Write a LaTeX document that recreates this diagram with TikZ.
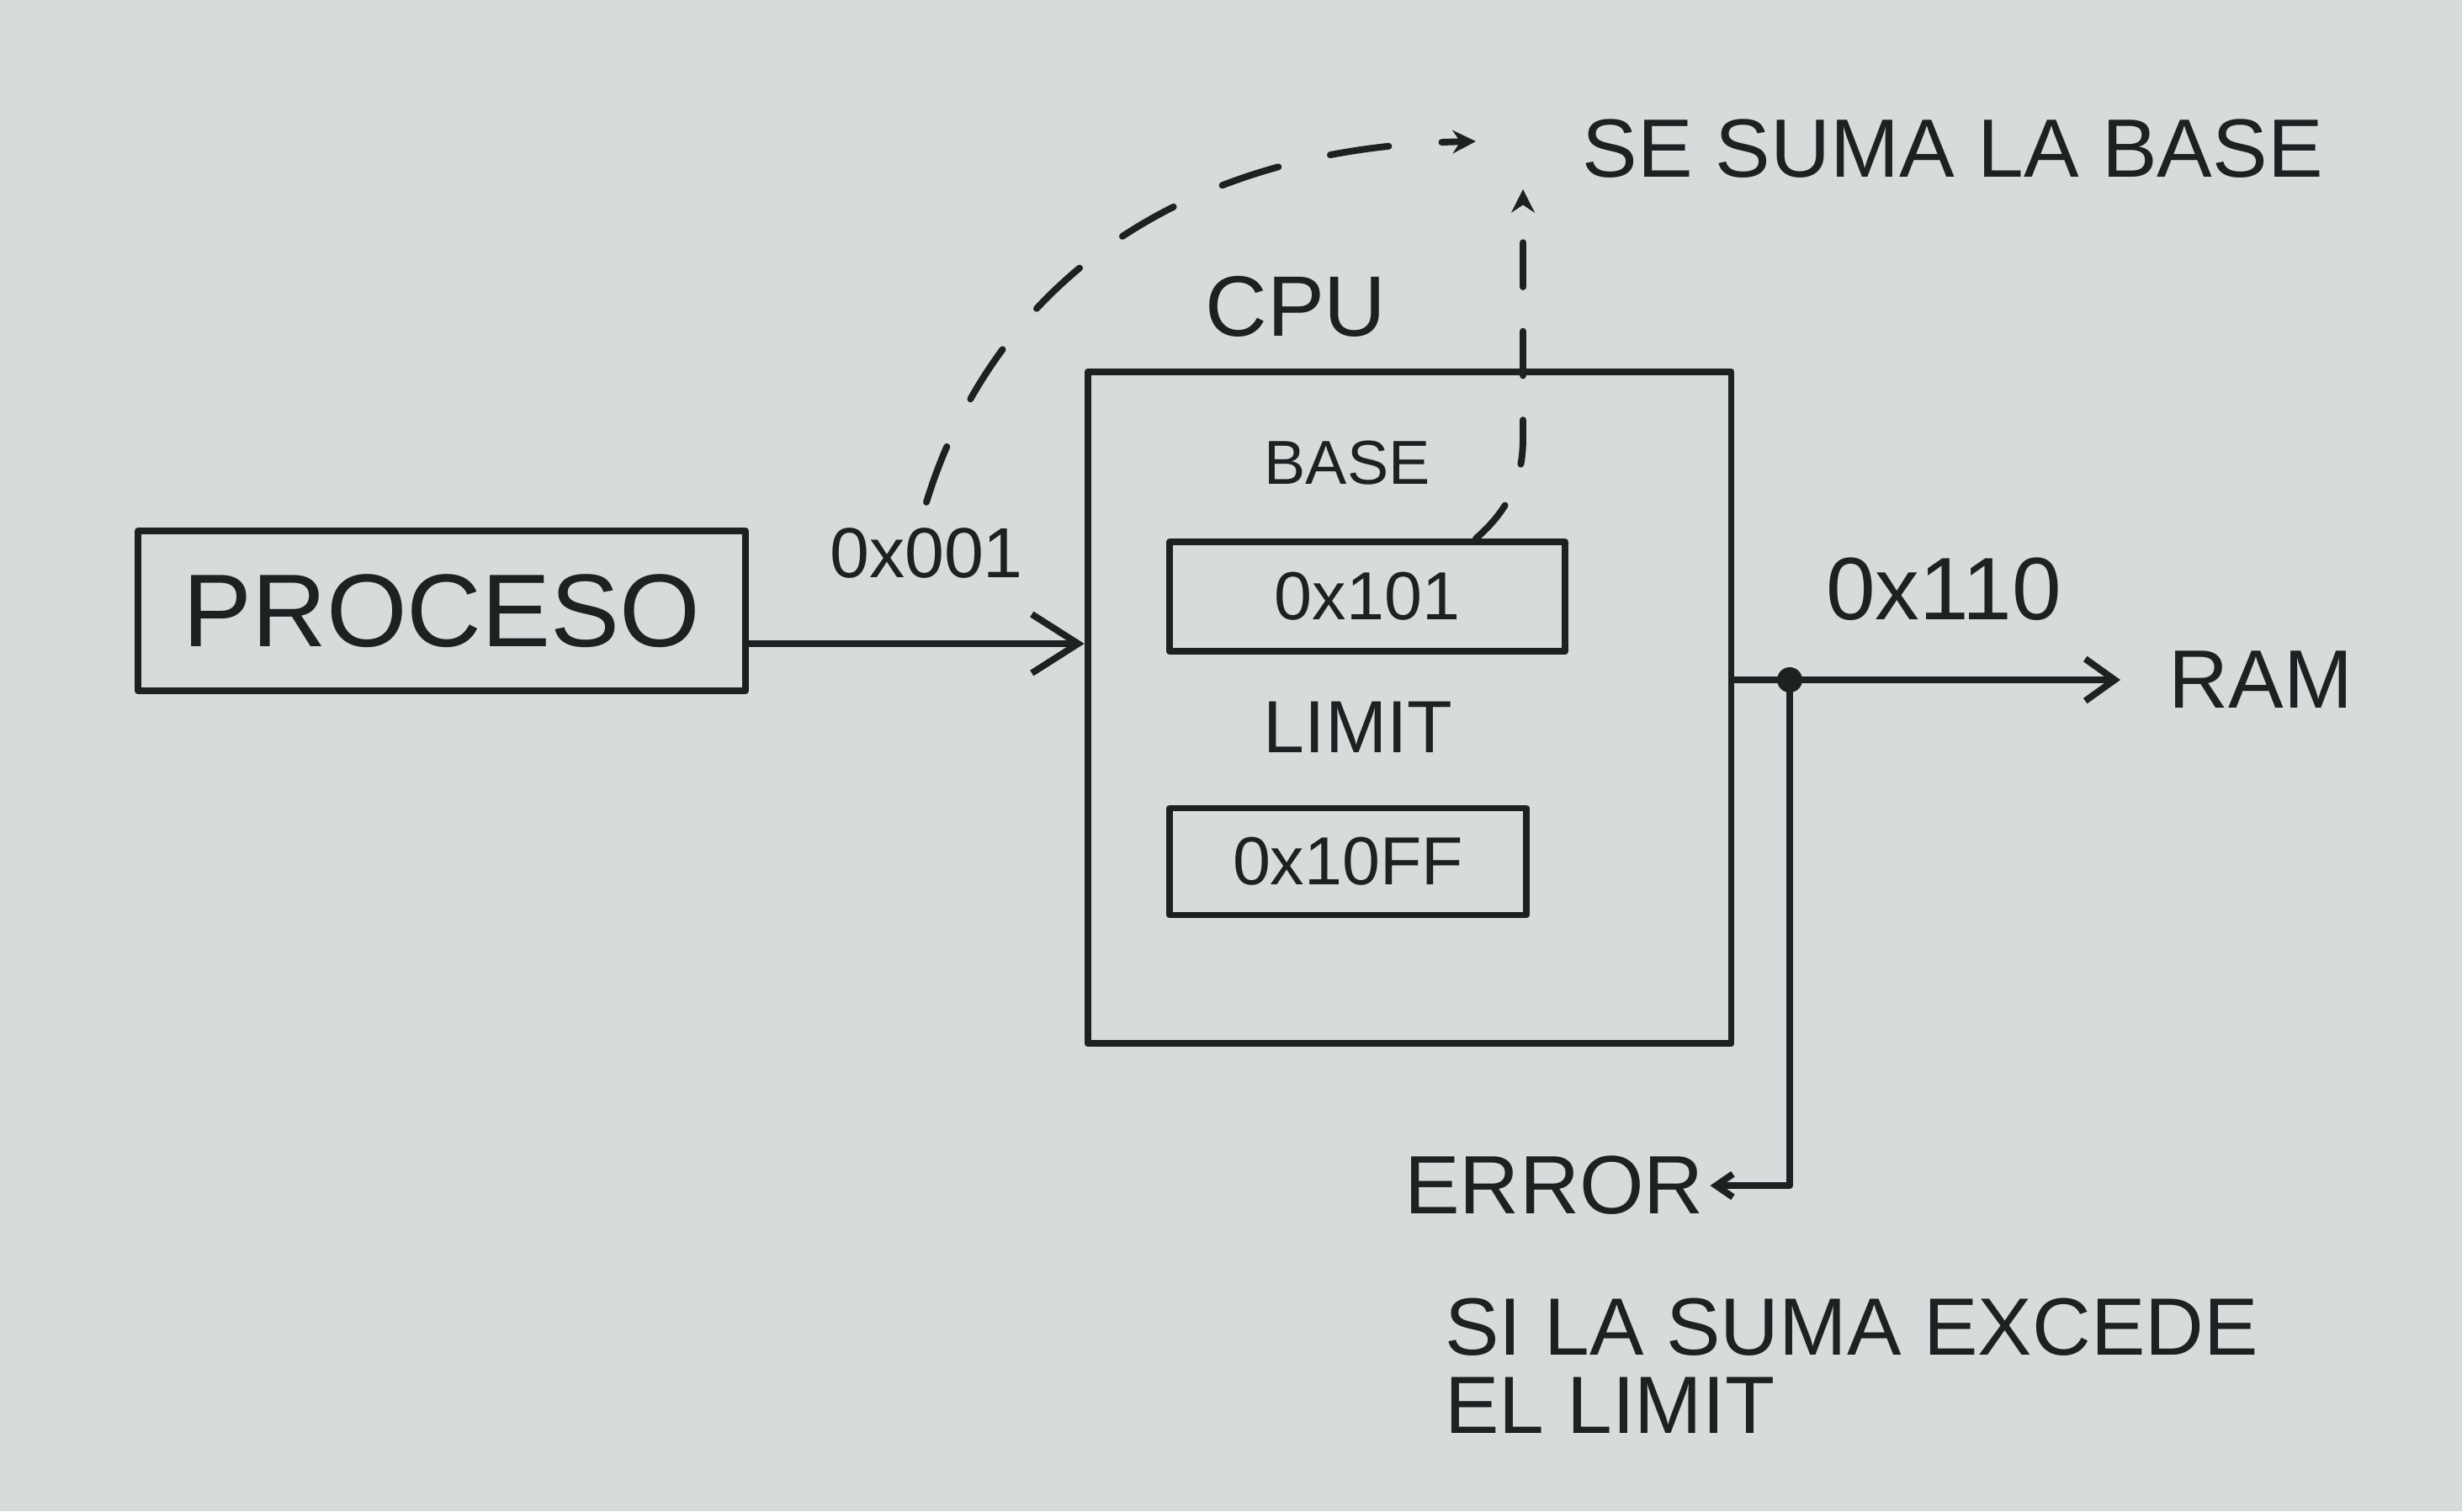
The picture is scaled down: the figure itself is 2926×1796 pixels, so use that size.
\documentclass[tikz,border=0pt]{standalone}
\usepackage{fontspec}
\setmainfont{Liberation Sans}
\usetikzlibrary{arrows.meta}
\definecolor{board}{RGB}{214,219,219}
\definecolor{ink}{RGB}{30,32,34}
\tikzset{
  inkline/.style={draw=ink, line width=4.5pt, line cap=round, line join=round},
  txt/.style={text=ink, inner sep=0pt},
  bigarrow/.style={-{Straight Barb[length=1.1cm,width=1.4cm,line width=4.5pt]}},
  smallarrow/.style={-{Straight Barb[length=0.7cm,width=1.0cm,line width=4.5pt]}},
  dasharrow/.style={dash pattern=on 40pt off 36pt, -{Stealth[length=0.55cm,width=0.55cm]}},
}
\newcommand{\fs}[1]{\fontsize{#1pt}{#1pt}\selectfont}
\begin{document}
\begin{tikzpicture}[x=0.02cm,y=-0.02cm]
\fill[board] (0,0) rectangle (2926,1796);
\useasboundingbox (0,0) rectangle (2926,1796);

% PROCESO
\node[inkline, minimum width=14.44cm, minimum height=3.8cm, txt] (proc) at (525,726) {\fs{70}PROCESO};

% CPU box and contents
\node[inkline, minimum width=15.3cm, minimum height=15.98cm] (cpu) at (1675,841) {};
\node[txt] (cpulabel) at (1540,364) {\fs{58}CPU};
\node[txt] (baselabel) at (1601,550) {\fs{42}BASE};
\node[inkline, minimum width=9.4cm, minimum height=2.6cm, txt] (base) at (1625,709) {\fs{46}0x101};
\node[txt] (limitlabel) at (1614,864) {\fs{50}LIMIT};
\node[inkline, minimum width=8.48cm, minimum height=2.54cm, txt] (limit) at (1602,1024) {\fs{46}0x10FF};

% input arrow
\node[txt] (addrin) at (1101,657) {\fs{48}0x001};
\draw[inkline, bigarrow] (proc.east |- 0,765) -- (cpu.west |- 0,765);

% output arrow
\node[txt] (ram) at (2687,808) {\fs{56}RAM};
\node[txt] (addrout) at (2310,700) {\fs{60}0x110};
\coordinate (ramtip) at (2520,808);
\draw[inkline, smallarrow] (cpu.east |- ramtip) -- (ramtip);
\coordinate (dot) at (2127,808);
\fill[ink] (dot) circle[radius=0.3cm];

% error branch
\node[txt] (err) at (1847,1409) {\fs{56}ERROR};
\node[txt, anchor=west] (err2) at (1717,1577) {\fs{55}SI LA SUMA EXCEDE};
\node[txt, anchor=west] (err3) at (1717,1670) {\fs{55}EL LIMIT};
\draw[inkline, -{Straight Barb[length=0.4cm,width=0.55cm,line width=4.5pt]}] (dot) |- ([xshift=0.15cm]err.east);

% "se suma la base"
\node[txt, anchor=west] (suma) at (1880,177) {\fs{56}SE SUMA LA BASE};
\coordinate (tip1) at (1754,168);
\coordinate (tip2) at (1810,225);
\draw[inkline, dasharrow] ([yshift=0.6cm]addrin.north) .. controls (1180,340) and (1400,175) .. (tip1);
\draw[inkline, dash pattern=on 30pt off 30pt, -{Stealth[length=0.55cm,width=0.55cm]}]
  (base.north -| 1754,0) .. controls (1800,600) and (1810,560) .. (1810,520) -- (tip2);
\end{tikzpicture}
\end{document}
